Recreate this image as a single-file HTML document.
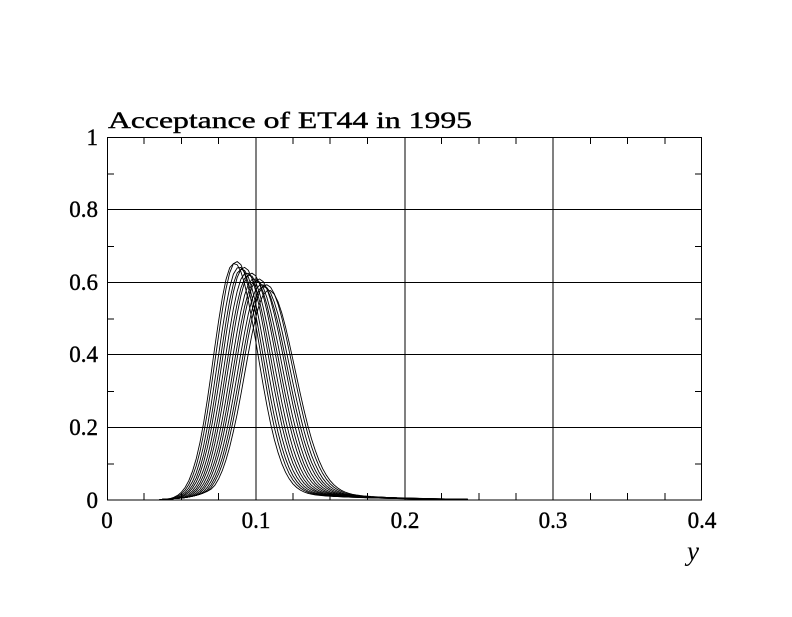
<!DOCTYPE html>
<html><head><meta charset="utf-8"><style>
body{margin:0;background:#fff}
svg text{font-family:"Liberation Serif",serif;fill:#000}
</style></head><body>
<svg id="s" width="792" height="612" xmlns="http://www.w3.org/2000/svg">
<rect width="792" height="612" fill="#fff"/>
<g stroke="#000" stroke-width="1" fill="none" shape-rendering="crispEdges">
<rect x="107.5" y="137.5" width="594" height="362.5"/>
<line x1="256" y1="137" x2="256" y2="500"/>
<line x1="405" y1="137" x2="405" y2="500"/>
<line x1="553" y1="137" x2="553" y2="500"/>
<line x1="107" y1="209.5" x2="702" y2="209.5"/>
<line x1="107" y1="282.5" x2="702" y2="282.5"/>
<line x1="107" y1="354.5" x2="702" y2="354.5"/>
<line x1="107" y1="427.5" x2="702" y2="427.5"/>
<g id="ticks"></g>
</g>
<g font-size="23" text-anchor="end" stroke="#000" stroke-width="0.4">
<text x="98" y="508">0</text><text x="98" y="435">0.2</text><text x="98" y="362">0.4</text>
<text x="98" y="290">0.6</text><text x="98" y="217">0.8</text><text x="98" y="145">1</text>
</g>
<g font-size="23" text-anchor="middle" stroke="#000" stroke-width="0.4">
<text x="107" y="528">0</text><text x="256" y="528">0.1</text><text x="405" y="528">0.2</text>
<text x="553" y="528">0.3</text><text x="702" y="528">0.4</text>
</g>
<text x="687" y="560" font-size="27" font-style="italic">y</text>
<text x="108" y="128" font-size="23" stroke="#000" stroke-width="0.4" textLength="364" lengthAdjust="spacingAndGlyphs">Acceptance of ET44 in 1995</text>
<g id="c" stroke="#000" stroke-width="0.9" fill="none"></g>
</svg>
<script>
var X=v=>107+v*1487.5, Y=v=>500-v*362.5;
var t="";
for(var i=1;i<16;i++){var x=107+i*37.1875;if(i%4==0)continue;t+=`<line x1="${x}" y1="500" x2="${x}" y2="493"/><line x1="${x}" y1="137" x2="${x}" y2="144"/>`;}
for(var j=1;j<10;j+=2){var y=500-j*36.25;t+=`<line x1="107" y1="${y}" x2="114" y2="${y}"/><line x1="702" y1="${y}" x2="695" y2="${y}"/>`;}
document.getElementById("ticks").innerHTML=t;
var c="",n=15;
for(var k=0;k<n;k++){
 var f=k/(n-1), mu=0.085+0.023*f, h=0.652-0.075*f+(k%3==1?0.01:0), sl=0.0134+0.002*f, sr=0.016+0.002*f;
 var d="";
 for(var x=0.035;x<=0.245;x+=0.0025){
  var g=x<mu?h*Math.exp(-Math.pow(x-mu,2)/(2*sl*sl)):h*Math.exp(-Math.pow(x-mu,2)/(2*sr*sr));
  var v=g;
  if(x<mu){var lt=0.03*Math.exp((x-0.07)/0.012); if(x<mu-0.02) v=Math.max(g,Math.min(lt,0.04));}
  else { v=g+0.045*Math.exp(-(x-mu)/0.045)*(1-Math.exp(-(x-mu)/0.02)); }
  if(x<0.037)v=0;
  if(x>0.243)v=0;
  d+=(d?"L":"M")+X(x).toFixed(1)+" "+Y(v).toFixed(1);
 }
 c+=`<path d="${d}"/>`;
}
document.getElementById("c").innerHTML=c;
</script>
</body></html>
